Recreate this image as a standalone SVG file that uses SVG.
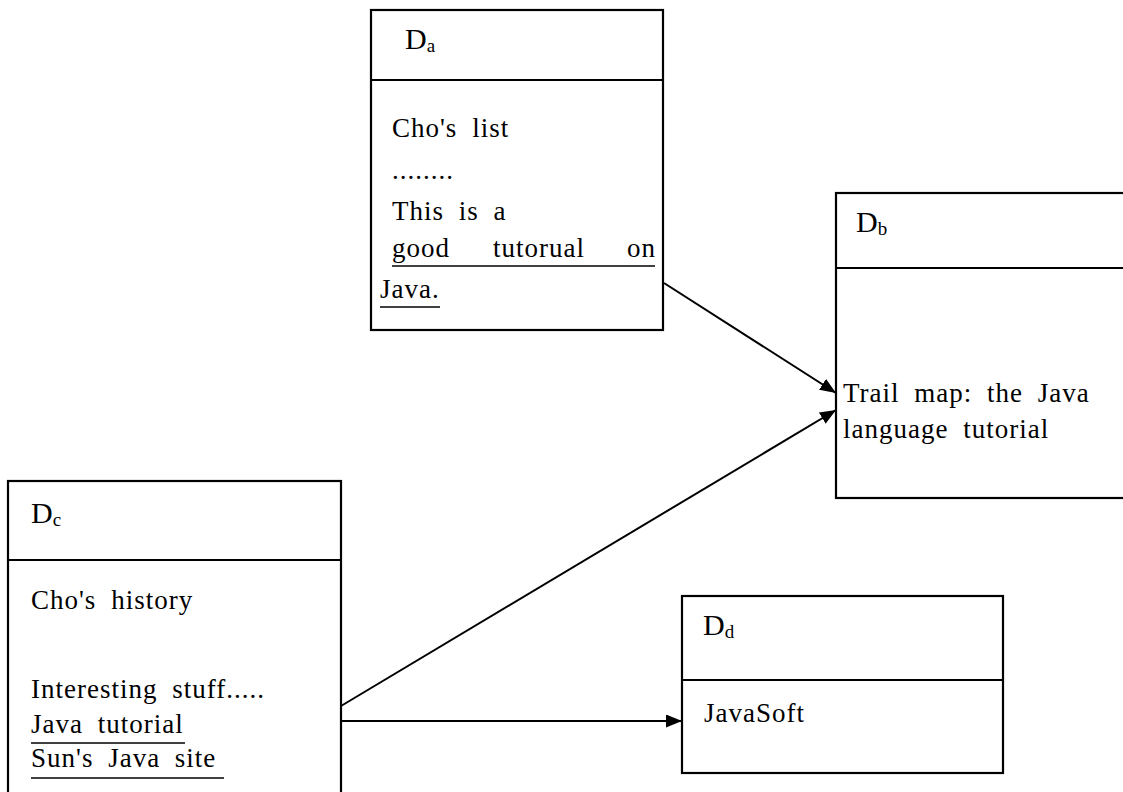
<svg xmlns="http://www.w3.org/2000/svg" width="1123" height="792" viewBox="0 0 1123 792">
<style>
.box{fill:#fff;stroke:#000;stroke-width:2.2}
.div{stroke:#000;stroke-width:2}
.hd{font-family:"Liberation Serif","Times New Roman",serif;font-size:30px;fill:#000}
.sub{font-size:19px}
.tx{font-family:"Liberation Serif","Times New Roman",serif;font-size:27px;fill:#000;letter-spacing:1px;word-spacing:7px}
.ul{stroke:#000;stroke-width:1.5}
.cn{stroke:#000;stroke-width:2;fill:none}
</style>
<defs>
<marker id="arr" markerUnits="userSpaceOnUse" markerWidth="18" markerHeight="14" refX="16" refY="6.5" orient="auto">
<path d="M0,0 L16,6.5 L0,13 z" fill="#000"/>
</marker>
</defs>
<rect width="1123" height="792" fill="#fff"/>
<g id="Da">
<rect class="box" x="371" y="10" width="292" height="320"/>
<line class="div" x1="371" y1="80" x2="663" y2="80"/>
<text class="hd" x="405" y="49">D<tspan class="sub" dy="3">a</tspan></text>
<text class="tx" x="392" y="137">Cho's list</text>
<text class="tx" x="392" y="179">........</text>
<text class="tx" x="392" y="220">This is a</text>
<text class="tx" x="392" y="257">good</text>
<text class="tx" x="493" y="257">tutorual</text>
<text class="tx" x="627" y="257">on</text>
<line class="ul" x1="392" y1="266" x2="655" y2="266"/>
<text class="tx" x="380" y="298">Java.</text>
<line class="ul" x1="380" y1="307" x2="440" y2="307"/>
</g>
<g id="Db">
<rect class="box" x="836" y="193" width="300" height="305"/>
<line class="div" x1="836" y1="268" x2="1123" y2="268"/>
<text class="hd" x="856" y="232">D<tspan class="sub" dy="3">b</tspan></text>
<text class="tx" x="843" y="402">Trail map: the Java</text>
<text class="tx" x="843" y="438">language tutorial</text>
</g>
<g id="Dc">
<rect class="box" x="8" y="481" width="333" height="330"/>
<line class="div" x1="8" y1="560" x2="341" y2="560"/>
<text class="hd" x="31" y="523">D<tspan class="sub" dy="3">c</tspan></text>
<text class="tx" x="31" y="609">Cho's history</text>
<text class="tx" x="31" y="698">Interesting stuff.....</text>
<text class="tx" x="31" y="733">Java tutorial</text>
<line class="ul" x1="31" y1="743" x2="185" y2="743"/>
<text class="tx" x="31" y="767">Sun's Java site</text>
<line class="ul" x1="31" y1="778" x2="224" y2="778"/>
</g>
<g id="Dd">
<rect class="box" x="682" y="596" width="321" height="177"/>
<line class="div" x1="682" y1="680" x2="1003" y2="680"/>
<text class="hd" x="703" y="635">D<tspan class="sub" dy="3">d</tspan></text>
<text class="tx" x="704" y="722">JavaSoft</text>
</g>
<g id="connectors">
<line class="cn" x1="664" y1="283" x2="836" y2="393" marker-end="url(#arr)"/>
<line class="cn" x1="341" y1="706" x2="836" y2="410" marker-end="url(#arr)"/>
<line class="cn" x1="341" y1="721" x2="682" y2="721" marker-end="url(#arr)"/>
</g>
</svg>
